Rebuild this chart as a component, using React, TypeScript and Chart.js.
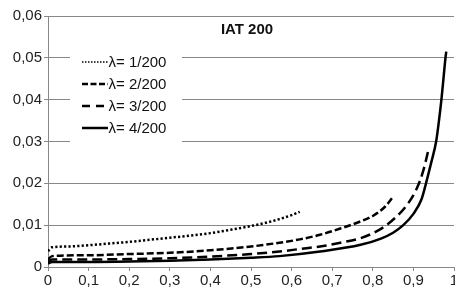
import React, { useEffect, useRef } from "react";
import { Chart, registerables } from "chart.js";

Chart.register(...registerables);

const chartTitle = "IAT 200";
const seriesLabels = ["λ= 1/200", "λ= 2/200", "λ= 3/200", "λ= 4/200"];

const x1 = [0, 0.01, 0.05, 0.1, 0.15, 0.2, 0.25, 0.3, 0.35, 0.4, 0.45, 0.5, 0.55, 0.6, 0.62];
const y1 = [0.0038, 0.0047, 0.0049, 0.0052, 0.0056, 0.006, 0.0065, 0.007, 0.0075, 0.0081, 0.0089, 0.0098, 0.0109, 0.0124, 0.0132];

const x2 = [0, 0.01, 0.1, 0.2, 0.3, 0.4, 0.5, 0.57, 0.62, 0.67, 0.72, 0.77, 0.8, 0.83, 0.85];
const y2 = [0.0018, 0.0026, 0.0028, 0.0031, 0.0034, 0.004, 0.0049, 0.0058, 0.0066, 0.0077, 0.0092, 0.0109, 0.0122, 0.0144, 0.0168];

const x3 = [0, 0.01, 0.1, 0.2, 0.3, 0.4, 0.5, 0.57, 0.62, 0.67, 0.72, 0.77, 0.82, 0.86, 0.887, 0.908, 0.924, 0.937];
const y3 = [0.0012, 0.0018, 0.0018, 0.0019, 0.0021, 0.0025, 0.0031, 0.0037, 0.0043, 0.0049, 0.0058, 0.0069, 0.0091, 0.0122, 0.0152, 0.0187, 0.0229, 0.028];

const x4 = [0, 0.01, 0.1, 0.2, 0.3, 0.4, 0.5, 0.57, 0.67, 0.77, 0.82, 0.85, 0.875, 0.9, 0.92, 0.931, 0.944, 0.956, 0.963, 0.969, 0.975, 0.979, 0.981];
const y4 = [0.0008, 0.0012, 0.0012, 0.0013, 0.0015, 0.0018, 0.0022, 0.0026, 0.0037, 0.0053, 0.0068, 0.0082, 0.01, 0.0127, 0.0162, 0.02, 0.025, 0.03, 0.035, 0.04, 0.046, 0.05, 0.0515];

const xTickLabels = ["0", "0,1", "0,2", "0,3", "0,4", "0,5", "0,6", "0,7", "0,8", "0,9", "1"];
const yTickLabels = ["0", "0,01", "0,02", "0,03", "0,04", "0,05", "0,06"];

const dashes: number[][] = [[2.2, 2.2], [7, 3], [10, 5], []];
const widths = [2.5, 2.5, 2.5, 2.5];
const legendDashes: number[][] = [[1.5, 1.5], [6, 2.5], [8, 6], []];
const legendWidths = [1.5, 2.5, 2.5, 2.5];

const FONT = "'Liberation Sans', Arial, sans-serif";

function pts(xs: number[], ys: number[]) {
  return xs.map((x, i) => ({ x, y: ys[i] }));
}

const overlayPlugin = {
  id: "overlay",
  beforeDatasetsDraw(chart: any) {
    const ctx = chart.ctx as CanvasRenderingContext2D;
    ctx.save();
    ctx.fillStyle = "#ffffff";
    ctx.fillRect(70, 49, 112, 96);
    const ys = [62, 84, 106, 128];
    seriesLabels.forEach((lab, i) => {
      ctx.beginPath();
      ctx.setLineDash(legendDashes[i]);
      ctx.lineWidth = legendWidths[i];
      ctx.strokeStyle = "#000";
      ctx.lineCap = "butt";
      ctx.moveTo(82, ys[i]);
      ctx.lineTo(108, ys[i]);
      ctx.stroke();
      ctx.setLineDash([]);
      ctx.fillStyle = "#111";
      ctx.font = `15px ${FONT}`;
      ctx.textAlign = "left";
      ctx.textBaseline = "middle";
      ctx.fillText(lab, 108.5, ys[i] + 1);
    });
    ctx.font = `bold 15px ${FONT}`;
    ctx.textAlign = "center";
    ctx.textBaseline = "middle";
    ctx.fillStyle = "#111";
    ctx.fillText(chartTitle, 247, 30);
    ctx.restore();
  },
};

export default function App() {
  const ref = useRef<HTMLCanvasElement | null>(null);
  useEffect(() => {
    document.body.style.margin = "0";
    const canvas = ref.current!;
    const allX = [x1, x2, x3, x4];
    const allY = [y1, y2, y3, y4];
    const chart = new Chart(canvas, {
      type: "line",
      data: {
        datasets: seriesLabels.map((label, i) => ({
          label,
          data: pts(allX[i], allY[i]),
          borderColor: "#000",
          backgroundColor: "#000",
          borderWidth: widths[i],
          borderDash: dashes[i],
          borderCapStyle: "butt",
          pointRadius: 0,
          fill: false,
          cubicInterpolationMode: "monotone",
        })) as any,
      },
      options: {
        responsive: false,
        animation: false,
        events: [],
        layout: { padding: { top: 16, right: 1, left: 0, bottom: 0 } },
        plugins: { legend: { display: false }, title: { display: false }, tooltip: { enabled: false } },
        scales: {
          x: {
            type: "linear",
            min: 0,
            max: 1,
            ticks: {
              stepSize: 0.1,
              color: "#222",
              font: { family: FONT, size: 15 },
              padding: 1,
              maxRotation: 0,
              autoSkip: false,
              callback: (_v: any, i: number) => xTickLabels[i],
            },
            grid: { display: true, drawOnChartArea: false, drawTicks: true, tickLength: 4, color: "#888" },
            border: { display: true, color: "#888" },
            afterFit: (s: any) => {
              s.height = 21;
              s.paddingLeft = 0;
              s.paddingRight = 0;
            },
          },
          y: {
            min: 0,
            max: 0.06,
            ticks: {
              stepSize: 0.01,
              color: "#222",
              font: { family: FONT, size: 15 },
              padding: 2,
              callback: (_v: any, i: number) => yTickLabels[i],
            },
            grid: { color: "#888", tickLength: 4, drawTicks: true },
            border: { display: true, color: "#888" },
            afterFit: (s: any) => {
              s.width = 48;
              s.paddingTop = 0;
              s.paddingBottom = 0;
            },
          },
        },
      },
      plugins: [overlayPlugin],
    });
    return () => chart.destroy();
  }, []);
  return (
    <div style={{ width: 455, height: 288 }}>
      <canvas ref={ref} width={455} height={288} style={{ display: "block" }} />
    </div>
  );
}
